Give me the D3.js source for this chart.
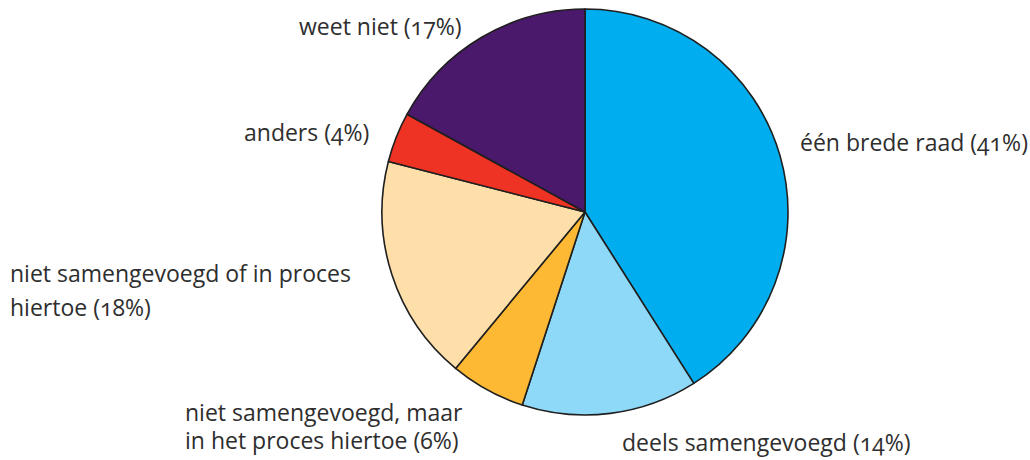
<!DOCTYPE html>
<html>
<head>
<meta charset="utf-8">
<script src="https://cdn.jsdelivr.net/npm/d3@7"></script>
<style>
  html, body { margin: 0; padding: 0; background: #fff; }
  svg { display: block; }
  text {
    font-family: "Open Sans", "Noto Sans", sans-serif;
    fill: #2e2e2e;
    font-variant-numeric: oldstyle-nums;
    font-feature-settings: "onum" 1;
  }
</style>
</head>
<body>
<svg id="chart" width="1030" height="460"></svg>
<script>
// Slice categories in clockwise order from 12 o'clock
const categories = [
  "één brede raad",
  "deels samengevoegd",
  "niet samengevoegd, maar in het proces hiertoe",
  "niet samengevoegd of in proces hiertoe",
  "anders",
  "weet niet"
];
// Share of respondents (%)
const values = [41, 14, 6, 18, 4, 17];
// Label lines as printed beside each slice
const labelLines = [
  ["één brede raad (41%)"],
  ["deels samengevoegd (14%)"],
  ["niet samengevoegd, maar", "in het proces hiertoe (6%)"],
  ["niet samengevoegd of in proces", "hiertoe (18%)"],
  ["anders (4%)"],
  ["weet niet (17%)"]
];

// Layout and styling
const colors = ["#00aeef", "#8ed8f8", "#fdb933", "#fedea9", "#ee3224", "#4a196b"];
const labelAnchor = [[800, 151], [622, 451], [185, 421], [10, 282], [244, 141], [299, 35]];
const labelGap = [0, 0, 28, 34, 0, 0];
const cx = 585, cy = 212, radius = 203;

const svg = d3.select("#chart");
const g = svg.append("g").attr("transform", `translate(${cx},${cy})`);

const pie = d3.pie().sort(null).value(d => d);
const arc = d3.arc().innerRadius(0).outerRadius(radius);
const arcs = pie(values);

g.selectAll("path.slice")
  .data(arcs)
  .join("path")
  .attr("class", "slice")
  .attr("d", arc)
  .attr("fill", (d, i) => colors[i])
  .attr("stroke", "#1f1f1f")
  .attr("stroke-width", 1.6)
  .attr("stroke-linejoin", "round");

// Labels
const labels = svg.append("g");
labelLines.forEach((lines, i) => {
  const t = labels.append("text")
    .attr("x", labelAnchor[i][0])
    .attr("y", labelAnchor[i][1])
    .attr("font-size", 23);
  lines.forEach((line, j) => {
    t.append("tspan")
      .attr("x", labelAnchor[i][0])
      .attr("dy", j === 0 ? 0 : labelGap[i])
      .text(line);
  });
});
</script>
</body>
</html>
